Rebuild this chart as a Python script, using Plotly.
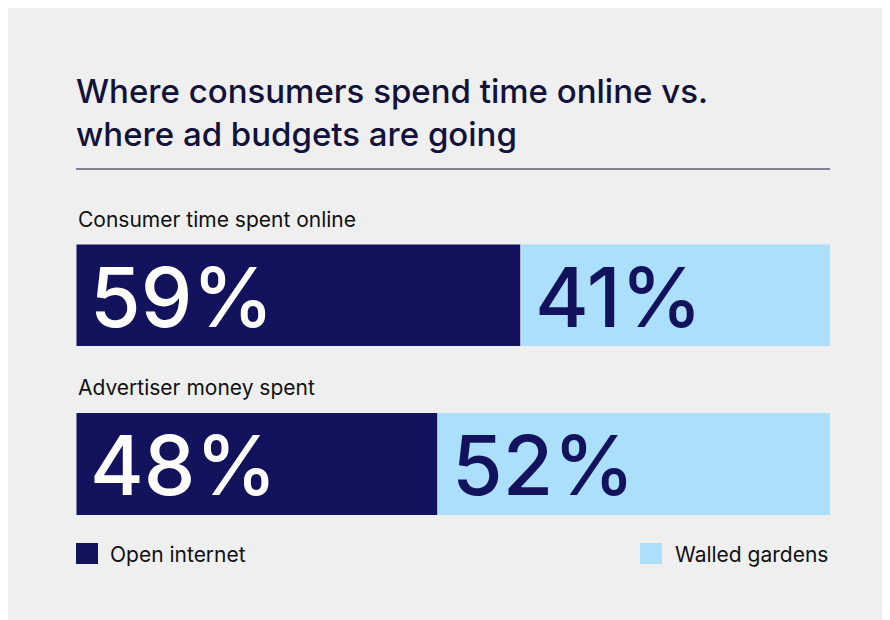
import plotly.graph_objects as go

categories = ["Consumer time spent online", "Advertiser money spent"]
open_internet = [59, 48]
walled_gardens = [41, 52]
series_names = ["Open internet", "Walled gardens"]

NAVY = "#13125c"
LIGHT = "#abdffb"
BG = "#efefef"
FONT = "Inter"

fig = go.Figure()
fig.add_bar(y=categories, x=open_internet, orientation="h", marker_color=NAVY,
            name=series_names[0], showlegend=False)
fig.add_bar(y=categories, x=walled_gardens, orientation="h", marker_color=LIGHT,
            name=series_names[1], showlegend=False)

ann = []
for c, a, b in zip(categories, open_internet, walled_gardens):
    ann.append(dict(x=0, y=c, xref="x", yref="y", text=f"{a}%", showarrow=False,
                    xanchor="left", xshift=12, yshift=-2,
                    font=dict(family=FONT, size=82, color="white", weight=500)))
    ann.append(dict(x=a, y=c, xref="x", yref="y", text=f"{b}%", showarrow=False,
                    xanchor="left", xshift=12, yshift=-2,
                    font=dict(family=FONT, size=82, color=NAVY, weight=500)))
    ann.append(dict(x=0, y=c, xref="x", yref="y", text=c, showarrow=False,
                    xanchor="left", yanchor="middle", yshift=76,
                    font=dict(family=FONT, size=21, color="#111")))

W, H = 890, 620
ann.append(dict(x=66 / W, y=1 - 105 / H, xref="paper", yref="paper",
                text="Where consumers spend time online vs.<br>where ad budgets are going",
                showarrow=False, xanchor="left", yanchor="middle", align="left",
                font=dict(family=FONT, size=33, color="#12123a", weight=500)))
ann.append(dict(x=100 / W, y=1 - 546 / H, xref="paper", yref="paper", text=series_names[0],
                showarrow=False, xanchor="left", yanchor="middle",
                font=dict(family=FONT, size=21, color="#111")))
ann.append(dict(x=822 / W, y=1 - 546 / H, xref="paper", yref="paper", text=series_names[1],
                showarrow=False, xanchor="right", yanchor="middle",
                font=dict(family=FONT, size=21, color="#111")))

shapes = [
    dict(type="line", xref="paper", yref="paper", x0=68 / W, x1=822 / W,
         y0=1 - 161 / H, y1=1 - 161 / H, line=dict(color="#12123a", width=1)),
    dict(type="rect", xref="paper", yref="paper", x0=68 / W, x1=90 / W,
         y0=1 - 556 / H, y1=1 - 535 / H, fillcolor=NAVY, line_width=0),
    dict(type="rect", xref="paper", yref="paper", x0=632 / W, x1=654 / W,
         y0=1 - 556 / H, y1=1 - 535 / H, fillcolor=LIGHT, line_width=0),
]

fig.update_layout(
    width=W, height=H, barmode="stack", bargap=0.396,
    paper_bgcolor=BG, plot_bgcolor=BG,
    margin=dict(l=0, r=0, t=0, b=0),
    xaxis=dict(range=[0, 100], visible=False, domain=[68 / W, 822 / W]),
    yaxis=dict(range=[1.302, -0.302], visible=False,
               domain=[(H - 507) / H, (H - 236) / H]),
    annotations=ann, shapes=shapes,
)
fig.write_html("out.html")
